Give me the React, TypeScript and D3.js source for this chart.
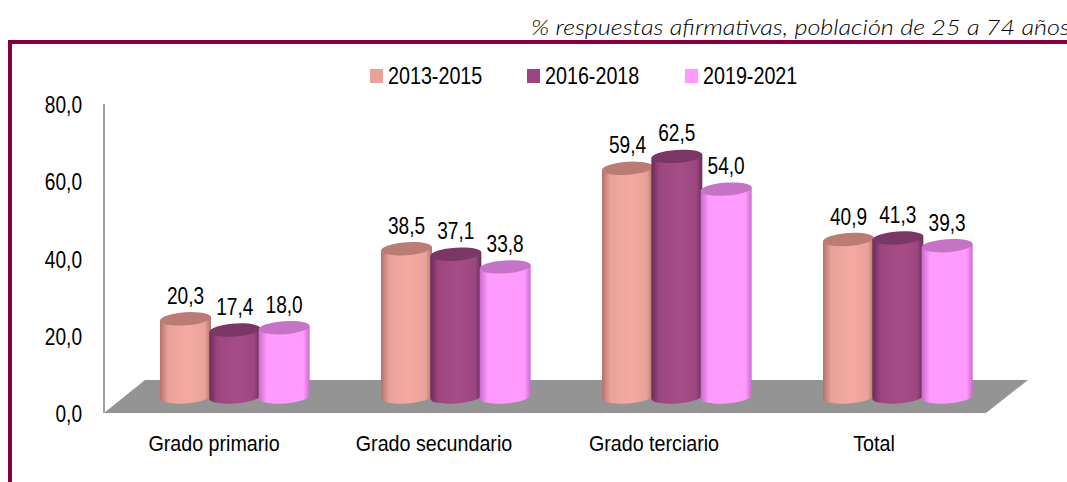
import React from "react";
import * as d3 from "d3";

const categories = ["Grado primario", "Grado secundario", "Grado terciario", "Total"];
const seriesNames = ["2013-2015", "2016-2018", "2019-2021"];
const s2013 = [20.3, 38.5, 59.4, 40.9];
const s2016 = [17.4, 37.1, 62.5, 41.3];
const s2019 = [18.0, 33.8, 54.0, 39.3];
const yTicks = [0, 20, 40, 60, 80];
const colors = ["#E8A29A", "#9C4680", "#FF99FF"];
const mids = ["#F4AAA2", "#A64D88", "#FF9CFF"];
const darks = ["#B5716B", "#6B2C57", "#C96CC9"];
const tops = ["#BA7C74", "#7A3765", "#C573C5"];

const W = 1067, H = 482;
const fmt = (v: number) => v.toFixed(1).replace(".", ",");
const FONT = "'Liberation Sans', Arial, sans-serif";

const yAxis = d3.scaleLinear().domain([0, 80]).range([413, 104]);
const yBar = d3.scaleLinear().domain([0, 80]).range([397, 89]);
const xGroup = d3.scaleBand().domain(categories).range([160, 1044]).padding(0);
const xLabel = d3.scaleBand().domain(categories).range([104, 984]).padding(0);
const xSeries = d3.scaleBand().domain(seriesNames).range([0, 148]).padding(0);
const R = 25.5, RY = 6.5, TILT = -4;
const dy = R * Math.sin((TILT * Math.PI) / 180);

function Label({ x, y, text, size = 23, sx = 0.83, anchor = "middle" }: any) {
  return (
    <text transform={`translate(${x},${y}) scale(${sx},1)`} textAnchor={anchor} fontFamily={FONT} fontSize={size} fill="#000">
      {text}
    </text>
  );
}

export default function App() {
  const all = [s2013, s2016, s2019];
  const floor = d3.line()([[104, 413], [145, 380], [1028, 380], [986, 413]]) + "Z";
  return (
    <svg width={W} height={H} viewBox={`0 0 ${W} ${H}`} style={{ position: "absolute", left: 0, top: 0, display: "block", background: "#fff" }}>
      <defs>
        {seriesNames.map((_, i) => (
          <linearGradient key={i} id={`g${i}`} x1="0" x2="1" y1="0" y2="0">
            <stop offset="0" stopColor={darks[i]} />
            <stop offset="0.16" stopColor={colors[i]} />
            <stop offset="0.55" stopColor={mids[i]} />
            <stop offset="0.88" stopColor={colors[i]} />
            <stop offset="1" stopColor={darks[i]} />
          </linearGradient>
        ))}
      </defs>

      <text transform="translate(531,35) scale(1.2,1)" fontFamily="'Lato', sans-serif" fontStyle="italic" fontWeight={300} fontSize={21} fill="#000">
        % respuestas afirmativas, población de 25 a 74 años
      </text>
      <rect x={8} y={40} width={W - 8} height={4} fill="#85003F" />
      <rect x={8} y={40} width={4} height={H - 40} fill="#85003F" />

      {seriesNames.map((s, i) => {
        const lx = [370, 527, 685][i];
        return (
          <g key={s}>
            <rect x={lx} y={69} width={13} height={14} fill={colors[i]} />
            <Label x={lx + 18} y={84} text={s} anchor="start" sx={0.858} />
          </g>
        );
      })}

      <line x1={104} x2={104} y1={104} y2={413} stroke="#A0A0A0" strokeWidth={2} />
      {yTicks.map((t) => (
        <Label key={t} x={82} y={yAxis(t) + 9} text={fmt(t)} anchor="end" />
      ))}
      <path d={floor} fill="#949494" />

      {categories.map((c) => (
        <g key={c} transform={`translate(${xGroup(c)!},0)`}>
          {seriesNames.map((s, i) => {
            const v = all[i][categories.indexOf(c)];
            const cx = xSeries(s)! + R;
            const yT = yBar(v);
            const yB = yBar(0);
            const body = `M${cx - R},${yT - dy}L${cx - R},${yB - dy}A${R},${RY} ${TILT} 0 0 ${cx + R},${yB + dy}L${cx + R},${yT + dy}Z`;
            return (
              <g key={s}>
                <path d={body} fill={`url(#g${i})`} />
                <ellipse cx={cx} cy={yT} rx={R} ry={RY} fill={tops[i]} transform={`rotate(${TILT} ${cx} ${yT})`} />
              </g>
            );
          })}
        </g>
      ))}

      {categories.map((c, ci) => (
        <g key={c} transform={`translate(${xGroup(c)!},0)`}>
          {seriesNames.map((s, i) => (
            <Label key={s} x={xSeries(s)! + R} y={yBar(all[i][ci]) - 15} text={fmt(all[i][ci])} />
          ))}
        </g>
      ))}

      {categories.map((c) => (
        <Label key={c} x={xLabel(c)! + xLabel.bandwidth() / 2} y={451} text={c} size={22.5} sx={0.875} />
      ))}
    </svg>
  );
}
